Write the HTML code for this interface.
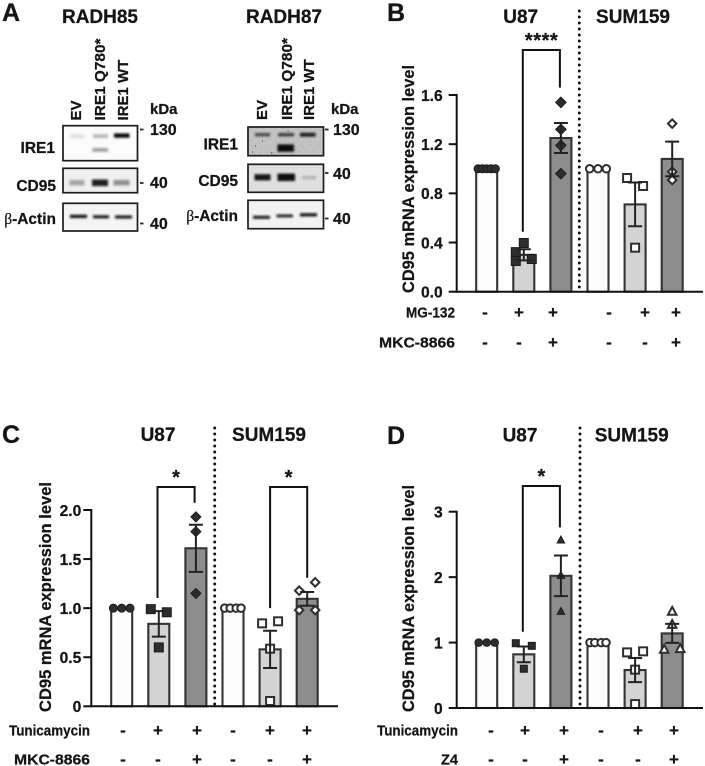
<!DOCTYPE html>
<html lang="en">
<head>
<meta charset="utf-8">
<title>CD95 expression figure</title>
<style>
html,body{margin:0;padding:0;background:#fff;width:705px;height:766px;overflow:hidden}
svg{display:block}
text{font-family:"Liberation Sans",sans-serif;font-weight:700;fill:#151515;stroke:#151515;stroke-width:.25}
.blot{fill:#fbfbfb;stroke:#1c1c1c;stroke-width:1.7}
.band{fill:#0c0c0c;filter:url(#soft)}
.lane{font-size:15px}
.wb{font-size:15.5px}
.kd{font-size:16px}
.letter{font-size:25px}
.head{font-size:19px}
</style>
</head>
<body>
<svg id="figure" width="705" height="766" viewBox="0 0 705 766" xmlns="http://www.w3.org/2000/svg">
<defs>
<filter id="soft" x="-40%" y="-150%" width="180%" height="400%"><feGaussianBlur stdDeviation="1"/></filter>
<filter id="noise" x="0" y="0" width="100%" height="100%"><feTurbulence type="fractalNoise" baseFrequency="0.7" numOctaves="2" seed="4"/><feColorMatrix type="matrix" values="0 0 0 0 0 0 0 0 0 0 0 0 0 0 0 0.9 0 0 0 -0.25"/></filter>
</defs>

<g id="panel-a">
<text class="letter" x="2" y="21">A</text>
<text class="head" x="100" y="23" text-anchor="middle">RADH85</text>
<text class="head" x="284" y="23" text-anchor="middle">RADH87</text>

<g>
<text class="lane" transform="translate(81 120.5) rotate(-90)">EV</text>
<text class="lane" transform="translate(105 120.5) rotate(-90)" textLength="82" lengthAdjust="spacingAndGlyphs">IRE1 Q780*</text>
<text class="lane" transform="translate(128 120.5) rotate(-90)">IRE1 WT</text>
</g>
<g>
<text class="lane" transform="translate(267 120) rotate(-90)">EV</text>
<text class="lane" transform="translate(292 120) rotate(-90)" textLength="82" lengthAdjust="spacingAndGlyphs">IRE1 Q780*</text>
<text class="lane" transform="translate(314 120) rotate(-90)">IRE1 WT</text>
</g>

<g>
<rect class="blot" x="63" y="125.7" width="74.5" height="35"/>
<rect class="band" x="70" y="134.5" width="14" height="3.5" opacity=".13"/>
<rect class="band" x="93" y="134.2" width="15" height="3.8" opacity=".28"/>
<rect class="band" x="114" y="133.4" width="15.5" height="4.4" opacity="1"/>
<rect class="band" x="92.5" y="148" width="15.5" height="3.8" opacity=".38"/>
</g>
<g>
<rect class="blot" x="63" y="168.3" width="74.5" height="24.4" style="fill:#efefef"/>
<rect class="band" x="69.5" y="180" width="15" height="5.4" opacity=".32"/>
<rect class="band" x="92" y="179.5" width="16" height="6.6" opacity=".92"/>
<rect class="band" x="113.5" y="180" width="16" height="5.4" opacity=".42"/>
</g>
<g>
<rect class="blot" x="63" y="203.3" width="74.5" height="27.7" style="fill:#f4f4f4"/>
<rect class="band" x="70" y="214.8" width="17" height="3.2" opacity="1"/>
<rect class="band" x="93" y="215.2" width="16" height="3.2" opacity=".92"/>
<rect class="band" x="115" y="215.4" width="17" height="3.2" opacity=".92"/>
</g>

<g>
<rect class="blot" x="248" y="127" width="75.5" height="28.7" style="fill:#cbcbcb"/>
<rect x="249" y="128" width="73.5" height="27" filter="url(#noise)" opacity=".22"/>
<rect class="band" x="255" y="133" width="15" height="3.4" opacity=".65"/>
<rect class="band" x="278" y="133" width="16" height="3.4" opacity=".72"/>
<rect class="band" x="300" y="132.8" width="15.5" height="3.8" opacity=".92"/>
<rect class="band" x="277.5" y="144.4" width="16.5" height="7.4" opacity="1"/>
<path d="M262 141h1M255 146h1M271 153h1.5M288 130.5v1M252 152h1" stroke="#333" stroke-width="1"/>
</g>
<g>
<rect class="blot" x="248" y="164.3" width="75.5" height="28" style="fill:#dfdfdf"/>
<rect class="band" x="254.5" y="174.2" width="16" height="6.2" opacity=".95"/>
<rect class="band" x="277.5" y="173.6" width="17.5" height="7.4" opacity="1"/>
<rect class="band" x="302" y="175.8" width="14" height="3.4" opacity=".2"/>
</g>
<g>
<rect class="blot" x="248" y="200.3" width="75.5" height="28.4" style="fill:#f2f2f2"/>
<rect class="band" x="253" y="215.8" width="17" height="3" opacity=".95"/>
<rect class="band" x="276.5" y="214.4" width="16.5" height="3" opacity=".88"/>
<rect class="band" x="300" y="213.2" width="17" height="3.2" opacity=".98"/>
</g>

<g>
<text class="wb" x="55" y="153" text-anchor="end">IRE1</text>
<text class="wb" x="56" y="191" text-anchor="end">CD95</text>
<text class="wb" x="56" y="224" text-anchor="end"><tspan style="font-family:'Liberation Serif',serif;font-weight:400">β</tspan>-Actin</text>
</g>
<g>
<text class="wb" x="238" y="149.5" text-anchor="end">IRE1</text>
<text class="wb" x="238" y="186" text-anchor="end">CD95</text>
<text class="wb" x="238" y="221" text-anchor="end"><tspan style="font-family:'Liberation Serif',serif;font-weight:400">β</tspan>-Actin</text>
</g>

<g>
<text class="kd" x="150" y="114" style="font-size:15px">kDa</text>
<path d="M140 129.5h3.5M140 183h3.5M140 223.5h3.5" stroke="#222" stroke-width="1.8"/>
<text class="kd" x="150" y="135">130</text>
<text class="kd" x="150" y="188">40</text>
<text class="kd" x="150" y="229">40</text>
</g>
<g>
<text class="kd" x="331" y="114" style="font-size:15px">kDa</text>
<path d="M325 129.5h3.5M325 173h3.5M325 218.5h3.5" stroke="#222" stroke-width="1.8"/>
<text class="kd" x="333" y="135">130</text>
<text class="kd" x="333" y="179">40</text>
<text class="kd" x="333" y="224">40</text>
</g>
</g>

<g id="panel-b"></g>
<g id="panel-c"></g>
<g id="panel-d"></g>
</svg>

<script>
// ---------- Shared category data ----------
const barCategories = ['U87 control', 'U87 drug', 'U87 combo', 'SUM159 control', 'SUM159 drug', 'SUM159 combo'];
const firstRowSigns = ['-', '+', '+', '-', '+', '+'];
const secondRowSigns = ['-', '-', '+', '-', '-', '+'];

// ---------- Panel B ----------
const bMeans = [1, 0.3, 1.25, 1, 0.71, 1.08];
const bErrors = [0, 0.045, 0.122, 0, 0.178, 0.141];
const bPoints = [[1, 1, 1, 1, 1], [0.396, 0.322, 0.25, 0.266], [1.54, 1.32, 1.19, 0.96], [1, 1, 1], [0.925, 0.86, 0.358], [1.367, 0.976, 0.908]];
const bSwarm = [[-1.08, -0.54, 0, 0.54, 1.08], [0, -1, -1, 1], [0, 0, 0, 0], [-1.04, 0, 1.04], [-1, 1, 0], [0, 0, 0]];
const bTicks = [0, 0.4, 0.8, 1.2, 1.6];
const bTickLabels = ['0.0', '0.4', '0.8', '1.2', '1.6'];

// ---------- Panel C ----------
const cMeans = [1, 0.84, 1.61, 1, 0.58, 1.095];
const cErrors = [0, 0.13, 0.24, 0, 0.19, 0.07];
const cPoints = [[1, 1, 1], [0.99, 0.958, 0.6], [1.93, 1.78, 1.15], [1, 1, 1, 1], [0.845, 0.866, 0.587, 0.054], [1.178, 1.263, 0.98, 0.98]];
const cSwarm = [[-1.04, 0, 1.04], [-1, 1, 0], [0, 0, 0], [-1.04, -0.35, 0.4, 1], [-1, 1, 0, 0], [-1, 1, -1, 1]];
const cTicks = [0, 0.5, 1, 1.5, 2];
const cTickLabels = ['0', '0.5', '1.0', '1.5', '2.0'];

// ---------- Panel D ----------
const dMeans = [1, 0.82, 2.02, 1, 0.58, 1.14];
const dErrors = [0, 0.12, 0.31, 0, 0.185, 0.145];
const dPoints = [[1, 1, 1], [0.99, 0.95, 0.6], [2.57, 2.03, 1.48], [1, 1, 1, 1], [0.85, 0.866, 0.586, 0.06], [1.48, 1.28, 0.9, 0.91]];
const dSwarm = [[-1, 0, 1], [-1, 1, 0], [0, 0, 0], [-1, -0.4, 0.4, 1], [-1, 1, 0, 0], [0, 0, -1, 1]];
const dTicks = [0, 1, 2, 3];
const dTickLabels = ['0', '1', '2', '3'];

const NS = 'http://www.w3.org/2000/svg';
const INK = '#2e2e2e';
const BAR_FILLS = ['#fdfdfd', '#d3d3d3', '#8d8d8d', '#fdfdfd', '#d3d3d3', '#8d8d8d'];

function mk(tag, attrs, parent, content) {
  const node = document.createElementNS(NS, tag);
  for (const k in attrs) node.setAttribute(k, attrs[k]);
  if (content !== undefined) node.textContent = content;
  parent.appendChild(node);
  return node;
}

function symbol(kind, filled, cx, cy, size, parent) {
  const fill = filled ? INK : '#ffffff';
  const common = { fill: fill, stroke: filled ? '#1a1a1a' : INK, 'stroke-width': filled ? 1 : 2 };
  const h = size / 2;
  if (kind === 'circle') return mk('circle', Object.assign({ cx: cx, cy: cy, r: h }, common), parent);
  if (kind === 'square') return mk('rect', Object.assign({ x: cx - h, y: cy - h, width: size, height: size }, common), parent);
  if (kind === 'diamond') return mk('polygon', Object.assign({ points: [cx, cy - h, cx + h, cy, cx, cy + h, cx - h, cy].join(',') }, common), parent);
  return mk('polygon', Object.assign({ points: [cx, cy - h, cx + h, cy + h * 0.85, cx - h, cy + h * 0.85].join(',') }, common), parent);
}

function drawPanel(cfg) {
  const g = document.getElementById(cfg.id);
  const yScale = v => cfg.y0 - v * (cfg.y0 - cfg.yTop) / cfg.yMax;
  const xScale = i => cfg.xFirst + i * cfg.xStep;

  const letter = mk('text', { x: cfg.letterX, y: cfg.letterY, 'font-size': 25 }, g, cfg.letter);
  
  

  const t1 = mk('text', { x: cfg.titleX[0], y: cfg.titleY, 'text-anchor': 'middle', 'font-size': 19 }, g, 'U87');
  
  
  const t2 = mk('text', { x: cfg.titleX[1], y: cfg.titleY, 'text-anchor': 'middle', 'font-size': 19 }, g, 'SUM159');
  
  

  const divider = mk('line', { x1: cfg.divX, x2: cfg.divX, y1: cfg.divTop, y2: cfg.y0 - 2, stroke: '#111', 'stroke-width': 2.9, 'stroke-linecap': 'round', 'stroke-dasharray': '0 6' }, g);
  
  

  cfg.means.forEach((m, i) => {
    const cx = xScale(i);
    const bar = mk('rect', { x: cx - 10.5, y: yScale(m), width: 21, height: cfg.y0 - yScale(m), fill: BAR_FILLS[i], stroke: '#333', 'stroke-width': 2.1 }, g);
    
    

    cfg.points[i].forEach((v, j) => {
      const pt = symbol(cfg.kinds[i], i < 3, cx + cfg.swarm[i][j] * cfg.slot, yScale(v), cfg.sizes[i], g);
      
      
    });

    if (cfg.errors[i] > 0) {
      const hi = yScale(m + cfg.errors[i]);
      const lo = yScale(m - cfg.errors[i]);
      const err = mk('path', { d: 'M' + (cx - 7) + ' ' + hi + 'h14M' + cx + ' ' + hi + 'V' + lo + 'M' + (cx - 7) + ' ' + lo + 'h14', fill: 'none', stroke: '#222', 'stroke-width': 2 }, g);
      
      
    }
  });

  // axes
  const yAxis = mk('line', { x1: cfg.axisX, x2: cfg.axisX, y1: yScale(cfg.yMax) - 1, y2: cfg.y0 + 1, stroke: '#111', 'stroke-width': 2 }, g);
  
  
  const xAxis = mk('line', { x1: cfg.axisX, x2: cfg.axisEnd, y1: cfg.y0, y2: cfg.y0, stroke: '#111', 'stroke-width': 2 }, g);
  
  

  cfg.ticks.forEach((v, i) => {
    const y = yScale(v);
    const tick = mk('line', { x1: cfg.axisX - 8, x2: cfg.axisX, y1: y, y2: y, stroke: '#111', 'stroke-width': 2 }, g);
    
    
    const lab = mk('text', { x: cfg.axisX - cfg.labelGap, y: y + 5.8, 'text-anchor': 'end', 'font-size': 15.6 }, g, cfg.tickLabels[i]);
    
    
  });

  const yTitle = mk('text', { transform: 'translate(' + cfg.yTitleX + ' ' + cfg.yTitleBottom + ') rotate(-90)', 'font-size': 16.2, textLength: cfg.yTitleLen, lengthAdjust: 'spacingAndGlyphs' }, g, 'CD95 mRNA expression level');
  
  

  // significance brackets: levels are expressed in y-axis units
  cfg.brackets.forEach(b => {
    const xa = xScale(b.from) + b.dx;
    const xb = xScale(b.to) + b.dx;
    const top = yScale(b.top);
    const br = mk('path', { d: 'M' + xa + ' ' + yScale(b.left) + 'V' + top + 'H' + xb + 'V' + yScale(b.right), fill: 'none', stroke: '#111', 'stroke-width': 2 }, g);
    
    
    const st = mk('text', { x: (xa + xb) / 2, y: top - 3, 'text-anchor': 'middle', 'font-size': 20, textLength: b.stars.length > 1 ? 33 : 8, lengthAdjust: 'spacing' }, g, b.stars);
    
    
  });

  // treatment rows
  const rows = [firstRowSigns, secondRowSigns];
  rows.forEach((signs, r) => {
    const lab = mk('text', { x: cfg.rowLabelRight, y: cfg.rowY[r] + 5.5, 'text-anchor': 'end', 'font-size': 15, textLength: cfg.rowLabelLen[r], lengthAdjust: 'spacingAndGlyphs' }, g, cfg.rowLabels[r]);
    
    
    signs.forEach((s, i) => {
      const sg = mk('text', { x: cfg.signX[i], y: cfg.rowY[r] + 6, 'text-anchor': 'middle', 'font-size': 17 }, g, s);
      
      
    });
  });
}

drawPanel({
  id: 'panel-b', letter: 'B', letterX: 387, letterY: 21,
  titleX: [520.7, 633], titleY: 23, divX: 579.3, divTop: 11,
  means: bMeans, errors: bErrors, points: bPoints, swarm: bSwarm, ticks: bTicks, tickLabels: bTickLabels,
  y0: 291.7, yTop: 95, yMax: 1.6, axisX: 456.7, axisEnd: 703, labelGap: 14,
  xFirst: 486.7, xStep: 37.1, slot: 8,
  kinds: ['circle', 'square', 'diamond', 'circle', 'square', 'diamond'],
  sizes: [8, 9, 10.5, 7.5, 8, 8.5],
  yTitleX: 414, yTitleBottom: 293, yTitleLen: 228,
  brackets: [{ from: 1, to: 2, dx: -1, top: 1.966, left: 0.488, right: 1.66, stars: '****' }],
  rowLabels: ['MG-132', 'MKC-8866'], rowLabelRight: 455, rowLabelLen: [49, 76], rowY: [312, 342],
  signX: [485, 519, 553, 609, 645, 676]
});

drawPanel({
  id: 'panel-c', letter: 'C', letterX: 2, letterY: 443,
  titleX: [158, 269], titleY: 441, divX: 214.7, divTop: 428,
  means: cMeans, errors: cErrors, points: cPoints, swarm: cSwarm, ticks: cTicks, tickLabels: cTickLabels,
  y0: 706.3, yTop: 510, yMax: 2, axisX: 91.3, axisEnd: 338, labelGap: 10,
  xFirst: 121.7, xStep: 37.1, slot: 8,
  kinds: ['circle', 'square', 'diamond', 'circle', 'square', 'diamond'],
  sizes: [8, 9, 10, 7.5, 8, 8.5],
  yTitleX: 51, yTitleBottom: 712, yTitleLen: 230,
  brackets: [
    { from: 1, to: 2, dx: -1.3, top: 2.234, left: 1.103, right: 2.074, stars: '*' },
    { from: 4, to: 5, dx: 0, top: 2.234, left: 1.0, right: 1.31, stars: '*' }
  ],
  rowLabels: ['Tunicamycin', 'MKC-8866'], rowLabelRight: 90, rowLabelLen: [81, 76], rowY: [730, 759],
  signX: [123, 158, 197, 233, 270, 307]
});

drawPanel({
  id: 'panel-d', letter: 'D', letterX: 387, letterY: 444,
  titleX: [520, 631.7], titleY: 441.7, divX: 580, divTop: 428,
  means: dMeans, errors: dErrors, points: dPoints, swarm: dSwarm, ticks: dTicks, tickLabels: dTickLabels,
  y0: 708, yTop: 511.7, yMax: 3, axisX: 456.7, axisEnd: 703, labelGap: 14,
  xFirst: 486.7, xStep: 37.1, slot: 8,
  kinds: ['circle', 'square', 'triangle', 'circle', 'square', 'triangle'],
  sizes: [7.5, 7, 7.5, 7.5, 8, 8.5],
  yTitleX: 414, yTitleBottom: 712, yTitleLen: 227,
  brackets: [{ from: 1, to: 2, dx: -1, top: 3.393, left: 1.166, right: 2.76, stars: '*' }],
  rowLabels: ['Tunicamycin', 'Z4'], rowLabelRight: 458, rowLabelLen: [81, 17], rowY: [730, 759],
  signX: [491, 525, 564, 601, 638, 674]
});
</script>
</body>
</html>
